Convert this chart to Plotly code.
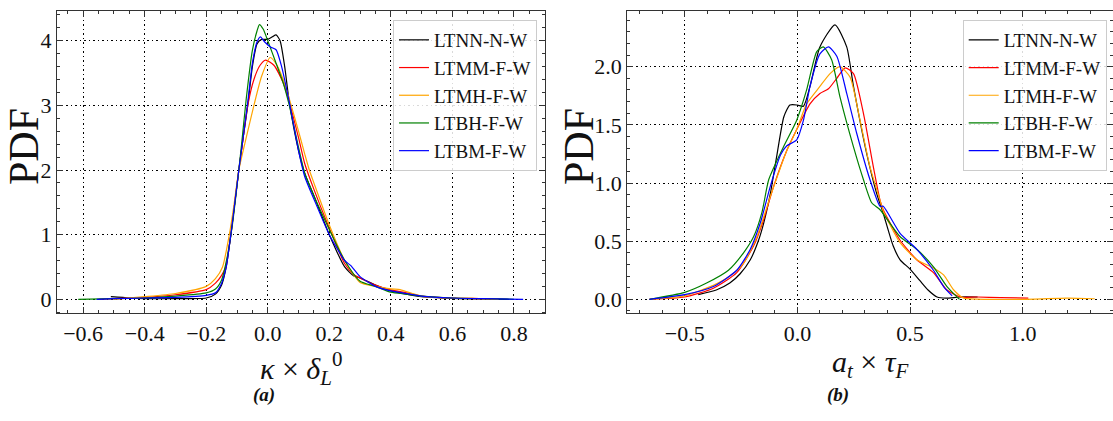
import plotly.graph_objects as go

# ---------------- data: panel (a)  kappa x delta_L^0 ----------------
names = ["LTNN-N-W", "LTMM-F-W", "LTMH-F-W", "LTBH-F-W", "LTBM-F-W"]
colors = ["#000000", "#FF0000", "#FFA500", "#008000", "#0000FF"]

a_black_x = [-0.51, -0.45, -0.4, -0.3, -0.2, -0.17, -0.15, -0.135, -0.12, -0.107, -0.094, -0.08, -0.065, -0.05, -0.035, -0.02, 0.0, 0.015, 0.027, 0.04, 0.055, 0.07, 0.1, 0.12, 0.15, 0.2, 0.25, 0.28, 0.3, 0.35, 0.4, 0.45, 0.5, 0.6, 0.7, 0.78]
a_black_y = [0.04, 0.02, 0.01, 0.01, 0.02, 0.08, 0.22, 0.5, 1.0, 1.5, 2.0, 2.5, 3.0, 3.6, 3.95, 4.02, 4.02, 4.06, 4.09, 4.0, 3.6, 3.05, 2.3, 1.95, 1.6, 1.0, 0.5, 0.36, 0.33, 0.22, 0.13, 0.08, 0.04, 0.015, 0.005, 0.0]

a_red_x = [-0.55, -0.4, -0.3, -0.2, -0.17, -0.15, -0.137, -0.12, -0.107, -0.094, -0.08, -0.065, -0.045, -0.025, -0.007, 0.02, 0.05, 0.07, 0.1, 0.12, 0.15, 0.2, 0.25, 0.28, 0.3, 0.35, 0.4, 0.45, 0.5, 0.6, 0.7, 0.75]
a_red_y = [0.0, 0.03, 0.07, 0.15, 0.25, 0.37, 0.5, 1.0, 1.5, 2.0, 2.5, 3.0, 3.4, 3.62, 3.7, 3.62, 3.35, 3.05, 2.5, 2.1, 1.7, 1.1, 0.55, 0.38, 0.33, 0.22, 0.145, 0.1, 0.05, 0.02, 0.01, 0.0]

a_orange_x = [-0.5, -0.4, -0.3, -0.2, -0.17, -0.147, -0.125, -0.11, -0.094, -0.07, -0.045, -0.02, 0.008, 0.03, 0.05, 0.07, 0.1, 0.12, 0.135, 0.15, 0.2, 0.25, 0.3, 0.35, 0.4, 0.43, 0.45, 0.5, 0.6, 0.7, 0.75]
a_orange_y = [0.0, 0.04, 0.09, 0.2, 0.32, 0.5, 1.0, 1.45, 2.0, 2.5, 3.0, 3.45, 3.74, 3.62, 3.4, 3.1, 2.6, 2.25, 2.0, 1.8, 1.15, 0.6, 0.26, 0.2, 0.16, 0.15, 0.12, 0.05, 0.02, 0.01, 0.0]

a_green_x = [-0.616, -0.5, -0.4, -0.3, -0.2, -0.17, -0.15, -0.13, -0.115, -0.1, -0.085, -0.07, -0.05, -0.035, -0.027, -0.015, 0.0, 0.027, 0.05, 0.07, 0.1, 0.12, 0.15, 0.2, 0.25, 0.3, 0.35, 0.4, 0.45, 0.5, 0.6, 0.7, 0.8]
a_green_y = [0.0, 0.01, 0.02, 0.05, 0.1, 0.16, 0.3, 0.7, 1.15, 1.75, 2.4, 3.1, 3.85, 4.15, 4.25, 4.18, 4.0, 3.65, 3.35, 3.0, 2.35, 1.95, 1.6, 1.08, 0.6, 0.28, 0.2, 0.11, 0.08, 0.05, 0.02, 0.01, 0.0]

a_blue_x = [-0.556, -0.5, -0.4, -0.3, -0.2, -0.17, -0.15, -0.135, -0.12, -0.107, -0.094, -0.08, -0.065, -0.05, -0.035, -0.024, -0.01, 0.01, 0.027, 0.045, 0.07, 0.1, 0.12, 0.15, 0.2, 0.25, 0.27, 0.3, 0.35, 0.4, 0.45, 0.5, 0.6, 0.7, 0.83]
a_blue_y = [0.0, 0.01, 0.02, 0.03, 0.06, 0.1, 0.25, 0.5, 1.0, 1.5, 2.0, 2.5, 3.05, 3.65, 3.98, 4.06, 3.98, 3.9, 3.86, 3.6, 3.05, 2.3, 1.9, 1.55, 1.0, 0.6, 0.52, 0.35, 0.2, 0.13, 0.09, 0.05, 0.02, 0.01, 0.0]

# ---------------- data: panel (b)  a_t x tau_F ----------------
b_black_x = [-0.44, -0.36, -0.3, -0.254, -0.209, -0.172, -0.149, -0.119, -0.09, -0.06, -0.033, 0.0, 0.027, 0.056, 0.1, 0.167, 0.219, 0.249, 0.308, 0.352, 0.381, 0.425, 0.456, 0.5, 0.544, 0.58, 0.62, 0.66, 0.72, 0.8]
b_black_y = [0.04, 0.08, 0.14, 0.22, 0.34, 0.51, 0.66, 0.92, 1.25, 1.57, 1.67, 1.67, 1.66, 1.83, 2.17, 2.36, 2.17, 1.83, 1.25, 0.91, 0.74, 0.46, 0.34, 0.26, 0.16, 0.08, 0.02, 0.01, 0.02, 0.02]

b_red_x = [-0.657, -0.5, -0.373, -0.269, -0.194, -0.149, -0.104, -0.047, -0.003, 0.056, 0.1, 0.138, 0.175, 0.212, 0.249, 0.293, 0.337, 0.367, 0.381, 0.455, 0.53, 0.604, 0.664, 0.724, 0.8, 0.9, 1.025]
b_red_y = [0.0, 0.02, 0.095, 0.23, 0.46, 0.69, 0.98, 1.28, 1.46, 1.68, 1.77, 1.81, 1.9, 1.99, 1.94, 1.6, 1.14, 0.85, 0.77, 0.51, 0.34, 0.23, 0.08, 0.02, 0.02, 0.015, 0.01]

b_orange_x = [-0.657, -0.5, -0.373, -0.3, -0.239, -0.179, -0.119, -0.047, -0.003, 0.041, 0.1, 0.145, 0.189, 0.234, 0.278, 0.322, 0.367, 0.381, 0.455, 0.53, 0.604, 0.649, 0.694, 0.739, 0.85, 1.0, 1.2, 1.32]
b_orange_y = [0.0, 0.03, 0.12, 0.2, 0.31, 0.54, 0.89, 1.28, 1.46, 1.68, 1.83, 1.94, 2.0, 1.91, 1.54, 1.14, 0.85, 0.76, 0.49, 0.34, 0.27, 0.21, 0.08, 0.01, 0.0, 0.0, 0.01, 0.005]

b_green_x = [-0.657, -0.5, -0.403, -0.306, -0.239, -0.194, -0.157, -0.127, -0.062, -0.003, 0.041, 0.086, 0.115, 0.152, 0.189, 0.249, 0.293, 0.33, 0.367, 0.455, 0.53, 0.604, 0.664, 0.709, 0.72]
b_green_y = [0.0, 0.06, 0.14, 0.25, 0.4, 0.54, 0.75, 1.03, 1.31, 1.54, 1.8, 2.13, 2.17, 2.06, 1.74, 1.31, 1.03, 0.83, 0.77, 0.54, 0.43, 0.28, 0.11, 0.02, 0.0]

b_blue_x = [-0.657, -0.5, -0.373, -0.269, -0.209, -0.164, -0.119, -0.075, -0.047, -0.003, 0.027, 0.056, 0.1, 0.138, 0.175, 0.219, 0.263, 0.322, 0.367, 0.381, 0.455, 0.53, 0.604, 0.649, 0.687]
b_blue_y = [0.0, 0.04, 0.11, 0.25, 0.43, 0.66, 0.98, 1.24, 1.32, 1.37, 1.54, 1.83, 2.11, 2.17, 2.09, 1.77, 1.43, 1.03, 0.8, 0.8, 0.57, 0.43, 0.25, 0.11, 0.03]

a_series = [(a_black_x, a_black_y), (a_red_x, a_red_y), (a_orange_x, a_orange_y),
            (a_green_x, a_green_y), (a_blue_x, a_blue_y)]
b_series = [(b_black_x, b_black_y), (b_red_x, b_red_y), (b_orange_x, b_orange_y),
            (b_green_x, b_green_y), (b_blue_x, b_blue_y)]

FONT = "Liberation Serif"
W, H = 1113, 421

fig = go.Figure()
for (xs, ys), n, c in zip(a_series, names, colors):
    fig.add_trace(go.Scatter(x=xs, y=ys, mode="lines", name=n,
                             line=dict(color=c, width=1.2, shape="spline", smoothing=0.6),
                             xaxis="x", yaxis="y", legend="legend"))
for (xs, ys), n, c in zip(b_series, names, colors):
    fig.add_trace(go.Scatter(x=xs, y=ys, mode="lines", name=n,
                             line=dict(color=c, width=1.2, shape="spline", smoothing=0.6),
                             xaxis="x2", yaxis="y2", legend="legend2"))

y_top = 1 - 10.7 / H
y_bot = 1 - 313.3 / H

def ax(domain, rng, dtick, minor_dtick, fmt, anchor):
    return dict(domain=domain, range=rng, dtick=dtick, tick0=0, tickformat=fmt,
                anchor=anchor, showline=True, linecolor="#333", linewidth=1.3,
                mirror="allticks", ticks="inside", ticklen=6, tickwidth=1, tickcolor="#333",
                showgrid=True, gridcolor="#000", griddash="1.5px,3px", gridwidth=1,
                zeroline=False, tickfont=dict(family=FONT, size=22, color="#111"),
                minor=dict(dtick=minor_dtick, tick0=0, ticks="inside", ticklen=3,
                           tickcolor="#333", showgrid=False))

fig.update_layout(
    width=W, height=H, margin=dict(l=0, r=0, t=0, b=0),
    paper_bgcolor="white", plot_bgcolor="white",
    xaxis=ax([57 / W, 545.3 / W], [-0.685, 0.902], 0.2, 0.05, ".1f", "y"),
    yaxis=ax([y_bot, y_top], [-0.2166, 4.464], 1, 0.2, "d", "x"),
    xaxis2=ax([627.3 / W, 1.0], [-0.755, 1.401], 0.5, 0.1, ".1f", "y2"),
    yaxis2=ax([y_bot, y_top], [-0.120, 2.481], 0.5, 0.1, ".1f", "x2"),
    legend=dict(x=537 / W, xanchor="right", y=1 - 20 / H, yanchor="top",
                bgcolor="rgba(255,255,255,0.85)", bordercolor="#cccccc", borderwidth=1,
                font=dict(family=FONT, size=19, color="#111")),
    legend2=dict(x=1106.7 / W, xanchor="right", y=1 - 20 / H, yanchor="top",
                 bgcolor="rgba(255,255,255,0.85)", bordercolor="#cccccc", borderwidth=1,
                 font=dict(family=FONT, size=19, color="#111")),
)

ann = dict(xref="paper", yref="paper", showarrow=False, xanchor="center", yanchor="middle")
fig.add_annotation(text="PDF", x=24 / W, y=1 - 147 / H, textangle=-90,
                   font=dict(family=FONT, size=42, color="#111"), **ann)
fig.add_annotation(text="PDF", x=579 / W, y=1 - 147 / H, textangle=-90,
                   font=dict(family=FONT, size=42, color="#111"), **ann)
fig.add_annotation(text="<i>κ</i> × <i>δ</i><sub><i>L</i></sub><sup>0</sup>", x=301 / W, y=1 - 368 / H,
                   font=dict(family=FONT, size=30, color="#111"), **ann)
fig.add_annotation(text="<i>a</i><sub><i>t</i></sub> × <i>τ</i><sub><i>F</i></sub>", x=870 / W, y=1 - 364 / H,
                   font=dict(family=FONT, size=30, color="#111"), **ann)
fig.add_annotation(text="<b><i>(a)</i></b>", x=264 / W, y=1 - 395 / H,
                   font=dict(family=FONT, size=19, color="#111"), **ann)
fig.add_annotation(text="<b><i>(b)</i></b>", x=838 / W, y=1 - 395 / H,
                   font=dict(family=FONT, size=19, color="#111"), **ann)

fig.write_html("out.html", config={"displayModeBar": False},
               post_script="document.body.style.margin='0';")
